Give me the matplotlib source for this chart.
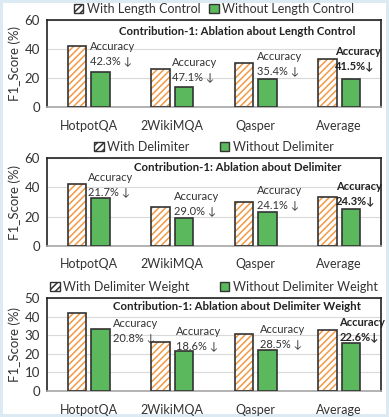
import numpy as np
import matplotlib
matplotlib.use("Agg")
import matplotlib.pyplot as plt

plt.rcParams['font.family'] = ['Lato', 'DejaVu Sans']
plt.rcParams['hatch.linewidth'] = 1.1

categories = ["HotpotQA", "2WikiMQA", "Qasper", "Average"]

# panel 1: length control
with_len = [42.0, 26.5, 30.2, 33.0]
without_len = [24.3, 13.8, 19.5, 19.2]
acc_len = ["42.3%", "47.1%", "35.4%", "41.5%"]

# panel 2: delimiter
with_delim = [42.0, 26.5, 30.2, 33.2]
without_delim = [33.0, 19.0, 23.0, 25.1]
acc_delim = ["21.7%", "29.0%", "24.1%", "24.3%"]

# panel 3: delimiter weight
with_weight = [42.2, 26.6, 30.4, 33.0]
without_weight = [33.5, 21.7, 21.8, 25.7]
acc_weight = ["20.8%", "18.6%", "28.5%", "22.6%"]

panels = [
    dict(labels=("With Length Control", "Without Length Control"),
         a=with_len, b=without_len, acc=acc_len, ymax=60, step=20,
         title="Contribution-1: Ablation about Length Control", title_y=0.865,
         tx=[0.02, 1.0, 2.01, 2.95], ty=[36.6, 25.9, 29.8, 33.4], colsp=0.7),
    dict(labels=("With Delimiter", "Without Delimiter"),
         a=with_delim, b=without_delim, acc=acc_delim, ymax=60, step=20,
         title="Contribution-1: Ablation about Delimiter", title_y=0.895,
         tx=[-0.01, 1.02, 2.02, 2.96], ty=[41.8, 28.8, 33.1, 35.7], colsp=2.4),
    dict(labels=("With Delimiter Weight", "Without Delimiter Weight"),
         a=with_weight, b=without_weight, acc=acc_weight, ymax=50, step=10,
         title="Contribution-1: Ablation about Delimiter Weight", title_y=0.91,
         tx=[0.29, 1.045, 2.05, 3.0], ty=[32.5, 28.1, 29.2, 33.0], colsp=2.4),
]

# axes boxes in pixels (top, bottom)
W, H = 389, 417
boxes = [(20, 107), (158, 246), (298, 391)]
left, right = 47, 381

fig = plt.figure(figsize=(W / 100, H / 100), dpi=100)
fig.patch.set_edgecolor('#dbeaf3')
fig.patch.set_linewidth(4)

orange = '#f39a45'
green = '#5cb85c'
x = np.arange(len(categories))
w = 0.22
off = 0.14

for p, (top, bot) in zip(panels, boxes):
    ax = fig.add_axes([left / W, 1 - bot / H, (right - left) / W, (bot - top) / H])
    ax.bar(x - off, p['a'], w, color='white', edgecolor=orange, hatch='/////',
           linewidth=0, label=p['labels'][0], zorder=2)
    ax.bar(x - off, p['a'], w, color='none', edgecolor='#333333', linewidth=1.2, zorder=3)
    ax.bar(x + off, p['b'], w, color=green, edgecolor='#333333', linewidth=1.2,
           label=p['labels'][1], zorder=3)

    for i, (tx, ty, acc) in enumerate(zip(p['tx'], p['ty'], p['acc'])):
        if i == len(categories) - 1:
            ax.text(tx, ty, f"Accuracy\n{acc}\u2193", fontsize=8, fontweight='bold',
                    ha='left', va='center', linespacing=1.35, color='#222222', zorder=5)
        else:
            ax.text(tx, ty, f"Accuracy\n{acc} \u2193", fontsize=8, ha='left', va='center',
                    linespacing=1.35, color='#333333', zorder=5)

    ax.text(0.57, p['title_y'], p['title'], transform=ax.transAxes, fontsize=8.2,
            fontweight='bold', ha='center', va='center', color='#222222')

    ax.set_xlim(-0.5, 3.5)
    ax.set_ylim(0, p['ymax'])
    ax.set_yticks(np.arange(0, p['ymax'] + 1, p['step']))
    ax.set_xticks(x)
    ax.set_xticklabels(categories, fontsize=9, color='#333333')
    ax.tick_params(axis='y', labelsize=9.5, labelcolor='#333333', length=0, pad=5)
    ax.tick_params(axis='x', length=0, pad=9)
    ax.yaxis.grid(True, color='#d9d9d9', linewidth=0.8, zorder=0)
    ax.set_axisbelow(True)
    ax.set_ylabel("F1_Score (%)", fontsize=9.5, color='#333333', labelpad=3)
    for s in ['top', 'right', 'left']:
        ax.spines[s].set_color('#222222')
        ax.spines[s].set_linewidth(1.2)
    ax.spines['bottom'].set_color('#a6a6a6')
    ax.spines['bottom'].set_linewidth(1.2)

    handles, labels = ax.get_legend_handles_labels()
    ax.legend(handles, labels, loc='lower center', bbox_to_anchor=(0.5, 0.99), ncol=2,
              frameon=False, fontsize=9, handlelength=0.75, handleheight=0.75,
              handletextpad=0.3, columnspacing=p['colsp'], borderaxespad=0.1,
              labelcolor='#333333')
    for h in ax.get_legend().legend_handles:
        h.set_edgecolor('#333333')
        h.set_linewidth(1.0)

fig.savefig("out.png", dpi=100)
